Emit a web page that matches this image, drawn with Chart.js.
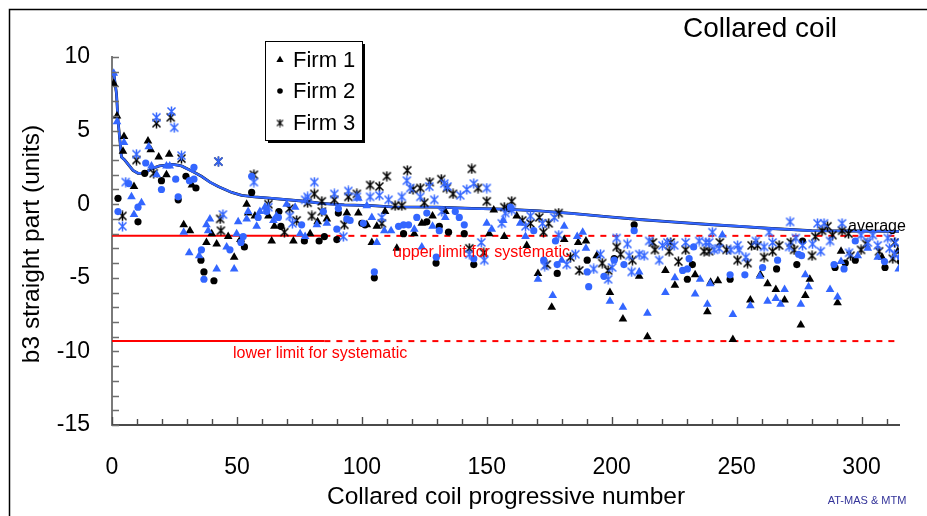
<!DOCTYPE html>
<html>
<head>
<meta charset="utf-8">
<script src="https://cdn.jsdelivr.net/npm/chart.js@4.4.1/dist/chart.umd.min.js"></script>
<style>
  html, body { margin: 0; padding: 0; background: #fff; }
  canvas { display: block; }
</style>
</head>
<body>
<canvas id="chart" width="927" height="516"></canvas>
<script>
// b3 straight part of the collared coils, per firm (black and blue measurement sets)
const firm1Black = [[0.7,8.2],[2,6.0],[4.4,3.6],[4.8,4.6],[8.8,1.2],[14.4,4.3],[15.5,3.7],[18.7,3.2],[21.8,2.0],[22.9,3.4],[28.7,-1.4],[31.2,-1.8],[32,1.3],[37.8,-2.6],[39.9,-2.0],[41.9,-2.7],[46.5,-2.2],[48.9,-3.6],[51.4,-2.4],[53.9,0.0],[54.5,-0.6],[57.2,-0.8],[62.6,-0.8],[63.9,-2.5],[65,-1.5],[72.6,-2.5],[79.3,-2.0],[82.3,-1.2],[86,-1.0],[94,-0.6],[98.6,-0.6],[102,-1.4],[104,-2.6],[106,-1.5],[109.3,-0.5],[114,-3.0],[121,-2.0],[124,-1.3],[128.3,-0.8],[133.4,-0.5],[151,-2.0],[152.8,-0.4],[157,-2.2],[162,-0.8],[166,-2.8],[170.5,-4.7],[176,-7.0],[181,-2.4],[186.6,-2.6],[189.7,-2.5],[194,-3.5],[199.3,-6.0],[204.5,-7.8],[211,-4.9],[214.3,-9.0],[221.5,-4.5],[225.3,-5.5],[233.4,-4.8],[238.3,-7.3],[239.6,-5.3],[242.5,-5.2],[248.5,-9.2],[255.5,-6.5],[259.5,-4.8],[262.4,-5.4],[265.7,-5.8],[269.2,-6.5],[275.7,-8.2],[277.5,-6.2],[279.3,-5.1],[290.4,-6.7],[291.8,-3.2],[308.2,-3.6],[314.5,-3.2]];
const firm1Blue = [[0.7,8.9],[2,5.6],[4.8,4.2],[7.8,0.5],[8.8,-0.7],[11.8,0.1],[14.7,3.9],[15.8,2.6],[17.9,2.0],[21.8,2.6],[23.1,2.6],[28.7,-1.9],[30.9,-3.3],[34.9,-3.5],[37.8,-1.4],[38.5,-1.8],[39.2,-1.0],[41.9,-4.4],[45.9,-2.9],[48.9,-4.4],[49.9,-2.0],[50.5,-1.2],[53.9,-1.0],[54.5,-0.5],[57.9,-1.5],[59.2,-0.5],[61.2,-0.2],[64.6,-1.1],[65.8,-0.8],[69.9,0.0],[73.3,-0.2],[75.3,-2.0],[77.3,-2.2],[82,-1.4],[86,-1.3],[98.6,0.4],[102,-0.1],[104,-0.9],[106,-2.6],[109,-1.8],[111.7,-1.8],[121,-1.7],[124,-2.9],[128.3,-1.5],[133.4,-0.9],[150,-1.3],[152,-1.7],[156.6,-1.1],[163.4,-1.3],[165.5,-2.2],[170.5,-5.1],[176.4,-6.2],[180,-3.8],[181,-1.5],[186.2,-2.2],[188.4,-1.9],[189.7,-3.0],[199.3,-6.6],[204.5,-7.0],[211,-4.6],[214.3,-7.4],[221.5,-6.0],[225.3,-5.0],[233.4,-6.1],[235.4,-5.1],[238.3,-6.8],[239.4,-5.4],[244.3,-2.1],[248.5,-7.5],[255.5,-6.9],[259.3,-4.9],[262.4,-6.6],[265.7,-6.4],[267.6,-6.8],[269.2,-5.8],[275.7,-6.8],[277.5,-4.8],[278.8,-5.6],[287.4,-5.8],[290.4,-6.3],[291.8,-3.9],[298.5,-3.5],[302.5,-3.0],[306.5,-3.6],[314.9,-4.4]];
const firm2Black = [[2.4,0.4],[10.4,-1.2],[13.1,2.1],[19.8,1.6],[26.5,0.3],[29.6,1.9],[33.6,1.1],[35.6,-3.8],[36.8,-4.6],[40.8,-5.2],[51.6,-2.5],[53,-2.9],[55.9,0.8],[66.8,-0.5],[67.6,-1.5],[77,-2.5],[82.9,-2.5],[85,-2.2],[90,-2.4],[90.6,-0.6],[100,-1.3],[101.3,-1.4],[105,-5.0],[116.7,-2.0],[126,-1.2],[129.7,-4.0],[131,-1.5],[134.7,-1.9],[141,-2.0],[144.8,-4.1],[158.8,-0.3],[178.2,-4.7],[190.2,-3.8],[201,-3.7],[209,-1.4],[230.3,-5.1],[232.3,-4.1],[247.4,-5.1],[266,-4.4],[274.1,-4.1],[276.4,-2.5],[289.4,-4.3],[293.5,-4.0],[297.5,-3.8],[309.4,-4.3],[315.6,-3.9]];
const firm2Blue = [[2.4,-0.5],[6.7,1.4],[10.4,-0.2],[13.5,2.8],[19.8,1.0],[25.5,1.7],[26.5,0.5],[31,1.6],[32.8,2.5],[32.8,1.7],[35.8,-3.1],[36.8,-5.1],[47.2,-3.1],[51.6,-2.6],[52.5,-2.2],[55.9,1.9],[58.5,-0.9],[61.9,-0.5],[66.6,-0.9],[75.9,-1.4],[84.6,-0.5],[90,-1.7],[90.6,-0.3],[94,-1.0],[95.3,-1.1],[100.6,-1.3],[105,-4.6],[114.7,-1.5],[116.7,-1.4],[118.7,-1.4],[122,-0.9],[126,-0.6],[129.8,-3.6],[131,-1.8],[137.4,-0.5],[139,-0.9],[141,-1.4],[144.8,-3.7],[159.5,-0.2],[168.8,-1.8],[172.8,-3.8],[177.5,-2.5],[178.2,-4.1],[190.2,-4.6],[190.8,-5.6],[196.9,-4.9],[201,-3.8],[204.9,-4.1],[209,-1.8],[228.4,-4.5],[230.3,-4.4],[231,-3.7],[232.8,-2.9],[247.4,-4.8],[253.3,-4.8],[260.4,-4.3],[266.4,-3.8],[274.8,-3.4],[276,-3.5],[289,-4.1],[293,-4.4],[297.5,-2.5],[309.2,-3.9],[315.6,-3.6]];
const firm3Black = [[4.2,-0.8],[9.8,3.0],[16.7,2.1],[17.8,5.5],[23.5,5.9],[27.8,3.1],[42.6,2.9],[43.3,-1.0],[43.6,-1.8],[56.8,2.0],[62.6,0.0],[69,-1.9],[71,-0.3],[73.9,-1.1],[78.3,0.1],[80,-0.8],[81,0.7],[84,0.2],[84,-0.5],[89,0.3],[93,-1.4],[94.6,0.5],[98,0.7],[103.3,1.3],[107,1.2],[108,-1.3],[110,1.9],[113.3,-0.1],[116,-0.1],[118.2,2.3],[120.5,1.0],[123.4,1.1],[125,0.1],[127.2,1.5],[131.8,1.7],[134,1.1],[136.5,0.7],[143,-3.0],[144,2.4],[146.5,1.1],[148.8,-3.3],[150,0.2],[157,-0.2],[160,0.2],[164.2,-1.1],[167.5,-1.3],[171,-0.9],[172.7,-1.9],[174.8,-1.3],[178.8,-0.6],[174,-4.1],[183.5,-3.6],[187,-4.5],[196.2,-4.0],[198.6,-4.5],[202,-2.9],[203.6,-3.4],[208.3,-3.8],[216.5,-2.6],[217.3,-3.1],[223,-3.2],[223.6,-2.6],[226.7,-3.9],[229.6,-3.1],[237,-3.2],[239,-3.2],[243.3,-2.6],[246,-3.1],[250.4,-3.8],[254.4,-4.0],[256,-2.8],[258.3,-2.8],[261,-3.6],[264.4,-3.2],[267,-2.8],[271.7,-2.6],[273,-3.1],[280.2,-3.5],[281.5,-2.2],[284.2,-1.8],[286.4,-1.5],[288.4,-2.1],[292.2,-1.8],[294.8,-2.0],[295.6,-3.5],[299.8,-3.1],[301.8,-2.7],[307,-3.2],[312.5,-3.7],[313.2,-2.6]];
const firm3Blue = [[4.2,-1.5],[5.5,1.5],[9.8,3.4],[17.8,5.9],[23.8,6.3],[24.9,5.2],[27.8,3.3],[42.6,2.9],[44.4,-0.7],[56.8,1.5],[62.6,-0.2],[71.2,-0.8],[72.2,-1.3],[77.3,0.3],[78.3,0.5],[81,1.5],[89,0.7],[92.6,-2.2],[94.6,0.9],[98,0.5],[103.3,0.5],[107,0.6],[108,-0.9],[110.7,0.3],[116,0.5],[118,1.6],[119.4,1.1],[123.4,0.5],[127,1.2],[129,0.3],[132,-0.5],[133,1.4],[134.3,1.2],[139.4,0.6],[142,1.0],[143,-3.4],[144.8,1.4],[147.8,-2.6],[149,-3.8],[150,1.1],[156,-1.3],[157.4,-0.6],[160,-0.4],[165.5,-1.5],[167.5,-0.8],[172.3,-1.3],[173.2,-4.2],[177,-0.9],[178.8,-2.1],[182,-4.1],[185.5,-3.4],[192.8,-4.4],[195.5,-3.4],[198.6,-5.1],[200.2,-4.3],[202,-2.3],[206.3,-2.7],[207,-3.5],[208,-4.6],[211,-3.4],[213,-3.5],[215,-2.5],[219,-3.8],[220.3,-2.8],[222.3,-2.6],[225,-2.8],[229.6,-2.6],[235,-2.5],[237.7,-2.6],[239,-2.6],[240.3,-1.9],[241,-3.1],[243,-3.0],[247.7,-3.1],[250.4,-2.8],[251,-3.1],[253.7,-3.6],[257.7,-2.5],[261,-2.9],[263,-1.9],[264.4,-2.6],[271,-2.9],[271.4,-1.2],[273.7,-2.3],[276.4,-2.8],[280.4,-2.7],[282.4,-1.3],[283.7,-3.2],[285,-1.3],[287.4,-2.5],[292.2,-1.3],[295,-3.3],[299.8,-2.1],[302.5,-2.6],[304.5,-2.1],[306.5,-2.8],[310.5,-2.3],[311.2,-3.0],[313.6,-2.6],[313.2,-3.4]];

// running average
const averageX = [0.7,1.8,2.4,3.8,5.1,8.4,10.4,13,15.7,19,24.5,27.8,32.5,35.8,39.2,42.5,47.9,51.9,57,64,77,84,93,104,112,130,144,157,171,184,199,211,224,239,251,264,280,298,316];
const averageY = [8.9,7.5,5.7,3.2,3.0,2.3,2.1,2.1,2.4,2.6,2.7,2.6,2.2,1.9,1.5,1.2,0.8,0.6,0.5,0.4,0.2,0.05,-0.05,-0.1,-0.18,-0.2,-0.29,-0.34,-0.45,-0.63,-0.86,-1.04,-1.2,-1.38,-1.5,-1.65,-1.8,-1.82,-1.85];

// systematic limits (solid over the first coils, dashed afterwards)
const upperLimit = -2.15;
const lowerLimit = -9.3;
const limitSolidEnd = 85;
const limitEnd = 316;

const xTickValues = [0, 50, 100, 150, 200, 250, 300];
const yTickValues = [-15, -10, -5, 0, 5, 10];
const legendLabels = ['Firm 1', 'Firm 2', 'Firm 3'];

const FONT = "'Liberation Sans', Arial, Helvetica, sans-serif";
const BLUE = '#3366ff';
const RED = '#ff0000';

function asterisk(color, size, width) {
  const c = document.createElement('canvas');
  c.width = size; c.height = size;
  const g = c.getContext('2d');
  const e = size - 1.5;
  g.strokeStyle = color;
  g.lineWidth = width;
  g.beginPath();
  g.moveTo(1.5, 1.5); g.lineTo(e, e);
  g.moveTo(e, 1.5); g.lineTo(1.5, e);
  g.moveTo(size / 2, 0.5); g.lineTo(size / 2, size - 0.5);
  g.stroke();
  return c;
}
const starBlack = asterisk('#000', 11, 1.5);
const starBlue = asterisk(BLUE, 11, 1.5);
const starLegend = asterisk('#000', 9, 1.1);

const toPoints = arr => arr.map(([x, y]) => ({ x, y }));

function markers(data, style, color, order) {
  const radius = style === 'triangle' ? 5 : 3.6;
  return {
    data: toPoints(data),
    pointStyle: style,
    pointRadius: radius,
    pointHoverRadius: radius,
    pointBackgroundColor: color,
    pointBorderColor: color,
    pointBorderWidth: 0,
    showLine: false,
    order
  };
}

function line(xs, ys, color, width, dash, order) {
  return {
    data: xs.map((x, i) => ({ x, y: ys[i] })),
    showLine: true,
    borderColor: color,
    borderWidth: width,
    borderDash: dash,
    pointRadius: 0,
    tension: 0,
    fill: false,
    order
  };
}

const datasets = [
  markers(firm1Blue, 'triangle', BLUE, 1),
  markers(firm2Blue, 'circle', BLUE, 2),
  markers(firm3Blue, starBlue, BLUE, 3),
  markers(firm1Black, 'triangle', '#000', 4),
  markers(firm2Black, 'circle', '#000', 5),
  markers(firm3Black, starBlack, '#000', 6),
  line(averageX, averageY, BLUE, 2.4, [], 7),
  line(averageX, averageY, '#000', 2.8, [], 8),
  line([0, limitSolidEnd], [upperLimit, upperLimit], RED, 2, [], 9),
  line([limitSolidEnd, limitEnd], [upperLimit, upperLimit], RED, 2, [6, 6], 9),
  line([0, limitSolidEnd], [lowerLimit, lowerLimit], RED, 2, [], 9),
  line([limitSolidEnd, limitEnd], [lowerLimit, lowerLimit], RED, 2, [6, 6], 9)
];

// inward tick marks: every unit on y, every 10 on x
const tickMarks = {
  id: 'tickMarks',
  afterDraw(chart) {
    const { ctx, scales: { x, y }, chartArea: a } = chart;
    ctx.save();
    ctx.lineWidth = 1.4;
    ctx.strokeStyle = '#6e6e6e';
    ctx.beginPath();
    for (let v = -15; v <= 10; v++) {
      const py = Math.round(y.getPixelForValue(v)) + 0.5;
      ctx.moveTo(a.left, py); ctx.lineTo(a.left + 7, py);
    }
    ctx.stroke();
    ctx.strokeStyle = '#4a4a4a';
    ctx.beginPath();
    for (let v = 0; v <= 310; v += 10) {
      const px = Math.round(x.getPixelForValue(v)) + 0.5;
      const len = v % 50 === 0 ? 8 : 6;
      ctx.moveTo(px, a.bottom); ctx.lineTo(px, a.bottom - len);
    }
    ctx.stroke();
    ctx.restore();
  }
};

// titles, notes, legend box and outer frame
const annotations = {
  id: 'annotations',
  afterDraw(chart) {
    const { ctx, scales: { x, y } } = chart;
    ctx.save();

    ctx.strokeStyle = '#000';
    ctx.lineWidth = 1.5;
    ctx.strokeRect(9.5, 9.5, 1000, 1000);

    ctx.fillStyle = '#000';
    ctx.textBaseline = 'alphabetic';
    ctx.textAlign = 'left';
    ctx.font = `28px ${FONT}`;
    ctx.fillText('Collared coil', 683, 37);

    ctx.font = `24.5px ${FONT}`;
    ctx.textAlign = 'center';
    ctx.fillText('Collared coil progressive number', 506, 504);

    ctx.save();
    ctx.translate(39, 244);
    ctx.rotate(-Math.PI / 2);
    ctx.fillText('b3 straight part (units)', 0, 0);
    ctx.restore();

    ctx.font = `11px ${FONT}`;
    ctx.fillStyle = '#333399';
    ctx.fillText('AT-MAS & MTM', 867, 504);

    ctx.textAlign = 'left';
    ctx.font = `16px ${FONT}`;
    ctx.fillStyle = '#000';
    ctx.fillText('average', 848, 231);

    ctx.fillStyle = RED;
    ctx.fillText('upper limit for systematic', 393, y.getPixelForValue(upperLimit) + 21);
    ctx.fillText('lower limit for systematic', 233, y.getPixelForValue(lowerLimit) + 17);

    // legend
    const bx = 265, by = 41, bw = 97, bh = 99;
    ctx.fillStyle = '#000';
    ctx.fillRect(bx + 3, by + 3, bw, bh);
    ctx.fillStyle = '#fff';
    ctx.fillRect(bx, by, bw, bh);
    ctx.strokeStyle = '#000';
    ctx.lineWidth = 1;
    ctx.strokeRect(bx + 0.5, by + 0.5, bw, bh);
    const styles = ['triangle', 'circle', starLegend];
    const rows = [60, 91, 123];
    ctx.font = `22px ${FONT}`;
    ctx.textBaseline = 'middle';
    legendLabels.forEach((label, i) => {
      ctx.fillStyle = '#000';
      ctx.strokeStyle = '#000';
      Chart.helpers.drawPoint(ctx, {
        pointStyle: styles[i], radius: i === 0 ? 4.2 : 2.8, rotation: 0, borderWidth: 0
      }, 280, rows[i]);
      ctx.fillStyle = '#000';
      ctx.fillText(label, 293, rows[i] + 1);
    });

    ctx.restore();
  }
};

new Chart(document.getElementById('chart'), {
  type: 'scatter',
  data: { datasets },
  plugins: [tickMarks, annotations],
  options: {
    responsive: false,
    devicePixelRatio: 1,
    animation: false,
    events: [],
    layout: { padding: { left: 0, top: 57, right: 28, bottom: 0 } },
    plugins: { legend: { display: false }, tooltip: { enabled: false }, title: { display: false } },
    scales: {
      x: {
        type: 'linear', min: 0, max: 315,
        afterBuildTicks: s => { s.ticks = xTickValues.map(v => ({ value: v })); },
        afterFit: s => { s.height = 91; },
        grid: { display: false, drawTicks: false },
        border: { display: true, color: '#4a4a4a', width: 2 },
        ticks: { color: '#000', font: { family: FONT, size: 23 }, padding: 29, maxRotation: 0, autoSkip: false }
      },
      y: {
        type: 'linear', min: -15, max: 10,
        afterBuildTicks: s => { s.ticks = yTickValues.map(v => ({ value: v })); },
        afterFit: s => { s.width = 112; },
        grid: { display: false, drawTicks: false },
        border: { display: true, color: '#7a7a7a', width: 2 },
        ticks: { color: '#000', font: { family: FONT, size: 23 }, padding: 22 }
      }
    }
  }
});
</script>
</body>
</html>
